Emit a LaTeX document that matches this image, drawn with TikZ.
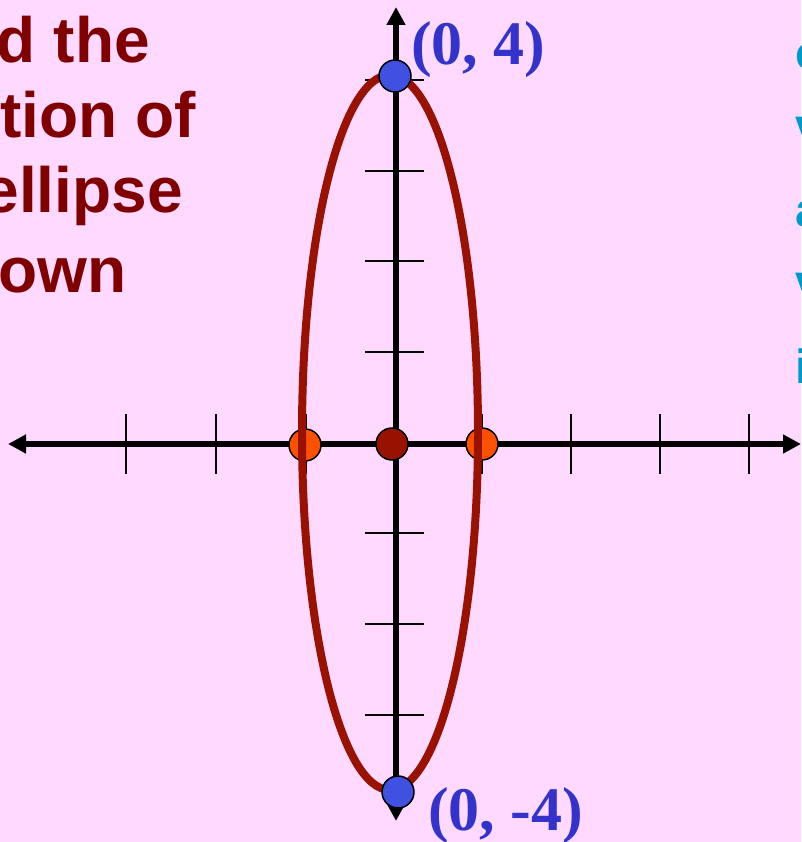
\documentclass[tikz,border=0pt]{standalone}
\usepackage{fontspec}
\setmainfont{Liberation Serif}
\newfontfamily\arialfont{Liberation Sans}
\usetikzlibrary{arrows.meta}
\definecolor{bgpink}{RGB}{255,217,255}
\definecolor{ellred}{RGB}{153,17,0}
\definecolor{txtred}{RGB}{128,0,0}
\definecolor{dotorange}{RGB}{255,80,0}
\definecolor{dotblue}{RGB}{64,80,224}
\definecolor{lblblue}{RGB}{51,51,204}
\definecolor{txtcyan}{RGB}{0,153,204}
\begin{document}
\begin{tikzpicture}[x=1pt,y=-1pt,
  axisline/.style={line width=6pt, {Triangle[length=18pt,width=18pt]}-{Triangle[length=18pt,width=18pt]}},
  tickline/.style={line width=2pt},
  ellline/.style={draw=ellred, line width=8pt},
  dotbase/.style={circle, draw=black, line width=1.5pt, minimum size=32pt, inner sep=0pt},
  orangedot/.style={dotbase, fill=dotorange},
  bluedot/.style={dotbase, fill=dotblue},
  centerdot/.style={dotbase, fill=ellred},
  ptlabel/.style={text=lblblue, font=\fontsize{62}{70}\selectfont\bfseries, inner sep=0pt, anchor=base west},
  lefttext/.style={text=txtred, font=\arialfont\fontsize{64}{72}\selectfont\bfseries, inner sep=0pt, anchor=base east},
  righttext/.style={text=txtcyan, font=\arialfont\fontsize{48}{56}\selectfont\bfseries, inner sep=0pt, anchor=base west}
]
\path[use as bounding box, fill=bgpink] (0,0) rectangle (801,842);

% axes
\coordinate (xl) at (8,444);
\coordinate (xr) at (801,444);
\coordinate (yt) at (396,7);
\coordinate (yb) at (396,821);
\draw[axisline] (xl) -- (xr);
\draw[axisline] (yt) -- (yb);

% ticks on x axis
\foreach \x in {126,216,306,482,571,660,749}{
  \draw[tickline] (\x,414) -- (\x,474);
}
% ticks on y axis
\foreach \y in {80,171,261,352,533,624,715}{
  \draw[tickline] (365,\y) -- (424,\y);
}

% foci
\node[orangedot] (f1) at (305,445) {};
\node[orangedot] (f2) at (482,444) {};

% ellipse
\draw[ellline] (390,432.5) ellipse [x radius=88, y radius=357.5];

% vertices and center
\node[bluedot] (v1) at (395,76) {};
\node[bluedot] (v2) at (398,792) {};
\node[centerdot] (c) at (392,444) {};

% labels
\node[ptlabel] (l1) at (411,65) {(0, 4)};
\node[ptlabel] (l2) at (428,830) {(0, -4)};

% left text (cut by the frame, as in the reference)
\node[lefttext] (t1) at (150,63) {d the};
\node[lefttext] (t2) at (196,138) {tion of};
\node[lefttext] (t3) at (183,213) {ellipse};
\node[lefttext] (t4) at (127,292) {own};

% right text (cut by the frame, as in the reference)
\node[righttext] (r1) at (795,70) {c};
\node[righttext] (r2) at (795,143) {v};
\node[righttext] (r3) at (795,226) {a};
\node[righttext] (r4) at (795,298) {v};
\node[righttext] (r5) at (795,383) {i};
\end{tikzpicture}
\end{document}
